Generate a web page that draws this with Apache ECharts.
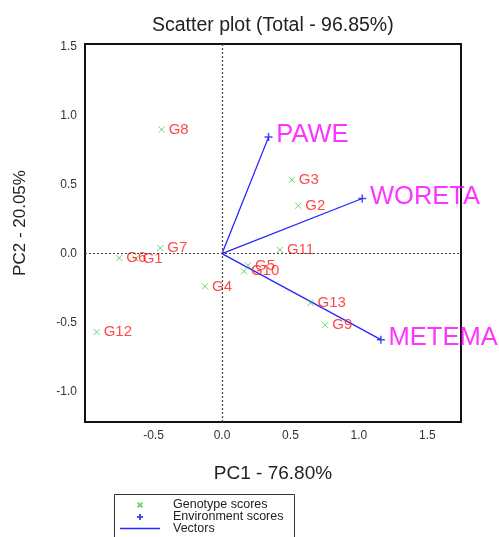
<!DOCTYPE html>
<html>
<head>
<meta charset="utf-8">
<script src="https://cdn.jsdelivr.net/npm/echarts@6/dist/echarts.min.js"></script>
<style>html,body{margin:0;padding:0;background:#fff}#c{width:499px;height:537px}</style>
</head>
<body>
<div id="c"></div>
<script>
// ---- data ----
var genotypes = ['G1','G2','G3','G4','G5','G6','G7','G8','G9','G10','G11','G12','G13'];
var genoPC1 = [-0.63, 0.557, 0.51, -0.124, 0.19, -0.75, -0.45, -0.44, 0.754, 0.16, 0.423, -0.915, 0.647];
var genoPC2 = [-0.035, 0.348, 0.536, -0.237, -0.085, -0.031, 0.041, 0.90, -0.517, -0.128, 0.027, -0.567, -0.357];
var environments = ['PAWE','WORETA','METEMA'];
var envPC1 = [0.34, 1.024, 1.16];
var envPC2 = [0.845, 0.40, -0.623];
var xTicks = [-0.5, 0.0, 0.5, 1.0, 1.5];
var yTicks = [-1.0, -0.5, 0.0, 0.5, 1.0, 1.5];
var xRange = [-1.0, 1.745];
var yRange = [-1.22, 1.52];
var legendNames = ['Genotype scores', 'Environment scores', 'Vectors'];

var FONT = "'Liberation Sans', Arial, sans-serif";
var genoData = genotypes.map(function (g, i) { return { name: g, value: [genoPC1[i], genoPC2[i]] }; });
var envData = environments.map(function (e, i) { return { name: e, value: [envPC1[i], envPC2[i]] }; });
var vecData = [];
environments.forEach(function (e, i) {
  if (i > 0) vecData.push('-');
  vecData.push([0, 0]);
  vecData.push([envPC1[i], envPC2[i]]);
});

var chart = echarts.init(document.getElementById('c'), null, { renderer: 'canvas' });
chart.setOption({
  animation: false,
  backgroundColor: '#fff',
  textStyle: { fontFamily: FONT },
  title: {
    text: 'Scatter plot (Total - 96.85%)',
    left: 147, top: 11,
    textStyle: { fontFamily: FONT, fontSize: 19.5, fontWeight: 'normal', color: '#222' }
  },
  grid: {
    left: 85, top: 44, right: 38, bottom: 115,
    show: true, borderColor: '#111', borderWidth: 2, backgroundColor: '#fff'
  },
  graphic: [{
    type: 'rect', left: 112, top: 492, silent: true,
    shape: { width: 180, height: 60 },
    style: { fill: 'none', stroke: '#333', lineWidth: 1 }
  }],
  legend: {
    orient: 'vertical',
    left: 113, top: 492, width: 180, height: 80,
    padding: [6, 8, 0, 7],
    itemWidth: 40, itemHeight: 12, itemGap: -2,
    textStyle: { fontFamily: FONT, fontSize: 12.5, color: '#222', padding: [0, 0, 0, 8], lineHeight: 12 },
    data: [
      { name: legendNames[0] },
      { name: legendNames[1] },
      { name: legendNames[2], icon: 'path://M0,0L40,0L40,1.3L0,1.3Z', itemStyle: { color: '#2626ff' } }
    ]
  },
  xAxis: {
    type: 'value', min: xRange[0], max: xRange[1],
    name: 'PC1 - 76.80%', nameLocation: 'middle', nameGap: 42,
    nameTextStyle: { fontFamily: FONT, fontSize: 19, color: '#222' },
    axisLine: { show: false }, axisTick: { show: false }, splitLine: { show: false },
    axisLabel: { customValues: xTicks, margin: 8, fontFamily: FONT, fontSize: 12, color: '#333',
      formatter: function (v) { return v.toFixed(1); } }
  },
  yAxis: {
    type: 'value', min: yRange[0], max: yRange[1],
    name: 'PC2 - 20.05%', nameLocation: 'middle', nameGap: 56,
    nameTextStyle: { fontFamily: FONT, fontSize: 17, color: '#222', padding: [0, 0, 0, 20] },
    axisLine: { show: false }, axisTick: { show: false }, splitLine: { show: false },
    axisLabel: { customValues: yTicks, margin: 8, fontFamily: FONT, fontSize: 12, color: '#333',
      formatter: function (v) { return v.toFixed(1); } }
  },
  series: [
    {
      name: legendNames[2], type: 'line', data: vecData, symbol: 'none', connectNulls: false,
      lineStyle: { color: '#2626ff', width: 1.3 }, itemStyle: { color: '#2626ff' }, z: 3,
      markLine: {
        silent: true, symbol: 'none', label: { show: false },
        lineStyle: { color: '#444', type: [2, 2], width: 1.2 },
        data: [{ xAxis: 0 }, { yAxis: 0 }]
      }
    },
    {
      name: legendNames[0], type: 'scatter', data: genoData,
      symbol: 'path://M0,0M20,20M6,6L14,14M14,6L6,14', symbolSize: 15,
      itemStyle: { color: 'rgba(0,0,0,0)', borderColor: '#44cc44', borderWidth: 1 },
      label: { show: true, position: 'right', distance: -1, formatter: '{b}',
        color: '#ff1a1a', fontFamily: FONT, fontSize: 15 },
      z: 4
    },
    {
      name: legendNames[1], type: 'scatter', data: envData,
      symbol: 'path://M0,0M20,20M10,5L10,15M5,10L15,10', symbolSize: 16,
      itemStyle: { color: 'rgba(0,0,0,0)', borderColor: '#1a1aff', borderWidth: 1.5 },
      label: { show: true, position: 'right', distance: -1, offset: [0, -2], formatter: '{b}',
        color: '#ff00ff', fontFamily: FONT, fontSize: 25.5 },
      z: 5
    }
  ]
});
</script>
</body>
</html>
